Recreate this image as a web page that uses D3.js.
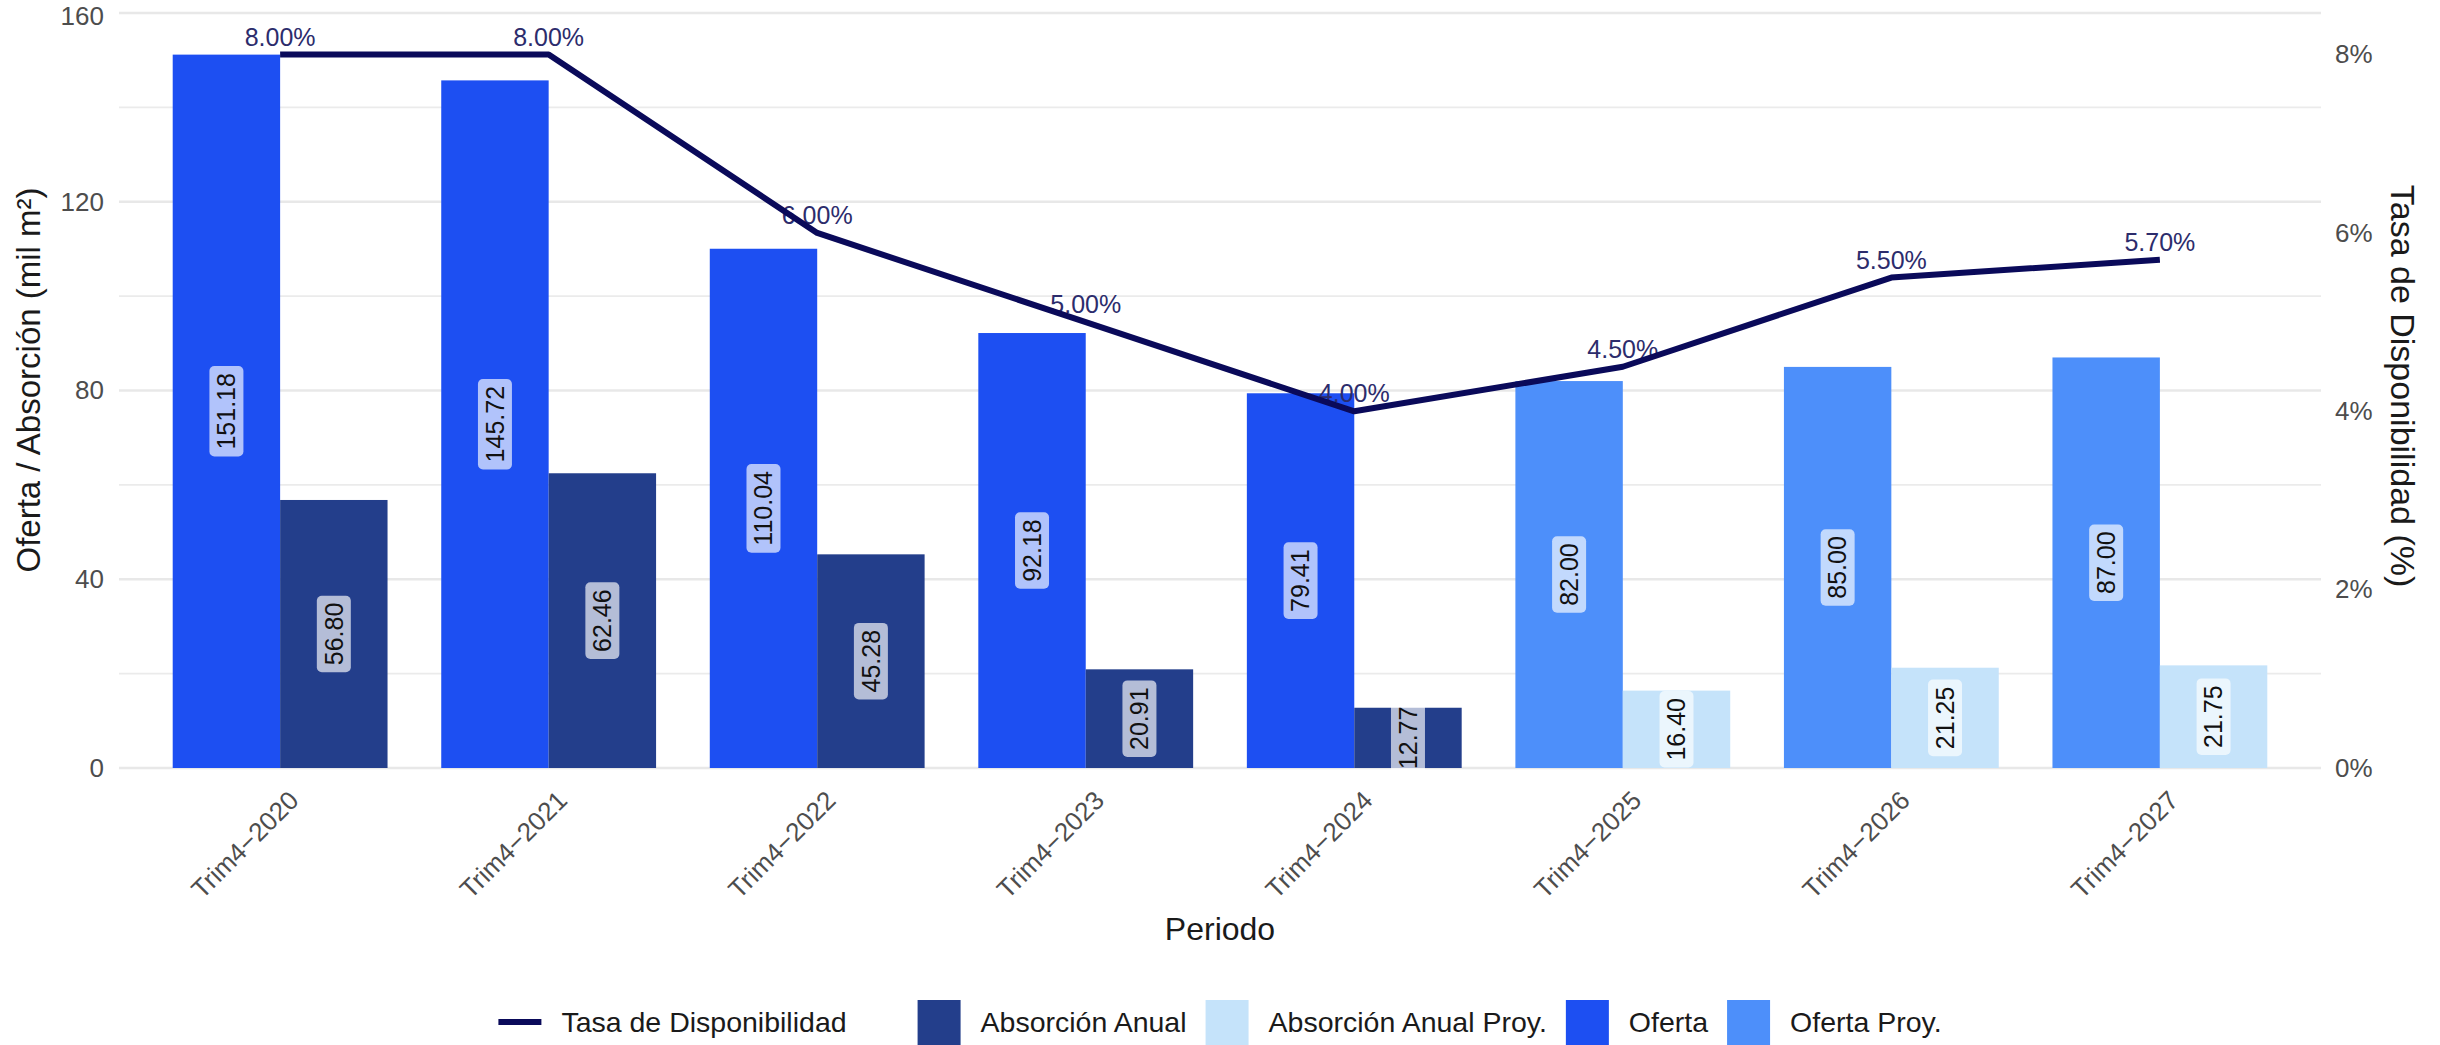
<!DOCTYPE html>
<html>
<head>
<meta charset="utf-8">
<script src="https://cdn.jsdelivr.net/npm/d3@7"></script>
<style>
  body { margin: 0; background: #fff; }
  svg { display: block; }
  text { font-family: "Liberation Sans", Arial, Helvetica, sans-serif; }
</style>
</head>
<body>
<svg id="chart" width="2440" height="1045"></svg>
<script>
// Periods (Q4 of each year); 2025–2027 are projections
const periodos = ["Trim4\u22122020", "Trim4\u22122021", "Trim4\u22122022", "Trim4\u22122023",
                  "Trim4\u22122024", "Trim4\u22122025", "Trim4\u22122026", "Trim4\u22122027"];
const oferta     = [151.18, 145.72, 110.04, 92.18, 79.41, 82.00, 85.00, 87.00];
const absorcion  = [56.80, 62.46, 45.28, 20.91, 12.77, 16.40, 21.25, 21.75];
const tasa       = [8.00, 8.00, 6.00, 5.00, 4.00, 4.50, 5.50, 5.70];
const proyectado = [false, false, false, false, false, true, true, true];

const yTicks      = [0, 40, 80, 120, 160];
const yMinorTicks = [20, 60, 100, 140];
const tasaTicks   = [0, 2, 4, 6, 8];

const serieNames = ["Absorción Anual", "Absorción Anual Proy.", "Oferta", "Oferta Proy."];
const colores = {
  "Oferta": "#1d4ff2",
  "Oferta Proy.": "#4d8ffa",
  "Absorción Anual": "#233e8b",
  "Absorción Anual Proy.": "#c5e3fa"
};
const lineColor = "#0a0a5a";

const svg = d3.select("#chart");
const panel = { left: 119, right: 2321, top: 13, bottom: 768 };

const x = d3.scaleBand().domain(periodos)
  .range([panel.left, panel.right]).paddingInner(0.2).paddingOuter(0.2);
const xSub = d3.scaleBand().domain(["oferta", "absorcion"]).range([0, x.bandwidth()]);
const y = d3.scaleLinear().domain([0, 160]).range([panel.bottom, panel.top]);
// secondary axis: the rate is rescaled so that its maximum meets the tallest supply bar
const yTasa = d3.scaleLinear().domain([0, d3.max(tasa)])
  .range([y(0), y(d3.max(oferta))]);

// grid
const grid = svg.append("g");
grid.selectAll("line.minor").data(yMinorTicks).join("line")
  .attr("x1", panel.left).attr("x2", panel.right)
  .attr("y1", d => y(d)).attr("y2", d => y(d))
  .attr("stroke", "#ebebeb").attr("stroke-width", 1.6);
grid.selectAll("line.major").data(yTicks).join("line")
  .attr("x1", panel.left).attr("x2", panel.right)
  .attr("y1", d => y(d)).attr("y2", d => y(d))
  .attr("stroke", "#e8e8e8").attr("stroke-width", 2.6);

// bars
const barras = [];
periodos.forEach((p, i) => {
  barras.push({ p, key: "oferta", v: oferta[i], serie: proyectado[i] ? "Oferta Proy." : "Oferta" });
  barras.push({ p, key: "absorcion", v: absorcion[i], serie: proyectado[i] ? "Absorción Anual Proy." : "Absorción Anual" });
});

svg.append("g").selectAll("rect").data(barras).join("rect")
  .attr("x", d => x(d.p) + xSub(d.key))
  .attr("width", xSub.bandwidth())
  .attr("y", d => y(d.v))
  .attr("height", d => y(0) - y(d.v))
  .attr("fill", d => colores[d.serie]);

// value labels, rotated, centred at half the bar height
const etiquetas = svg.append("g").selectAll("g").data(barras).join("g")
  .attr("transform", d => `translate(${x(d.p) + xSub(d.key) + xSub.bandwidth() / 2},${y(d.v / 2)}) rotate(-90)`);
etiquetas.append("rect").attr("class", "box");
etiquetas.append("text")
  .attr("text-anchor", "middle").attr("dy", "0.35em")
  .attr("font-size", 25).attr("fill", "#111111")
  .text(d => d.v.toFixed(2));
etiquetas.each(function () {
  const g = d3.select(this);
  const tw = g.select("text").node().getComputedTextLength();
  g.select("rect.box")
    .attr("x", -tw / 2 - 7).attr("y", -17)
    .attr("width", tw + 14).attr("height", 34)
    .attr("rx", 5).attr("ry", 5)
    .attr("fill", "#ffffff").attr("fill-opacity", 0.66);
});

// rate labels
const cx = p => x(p) + x.bandwidth() / 2;
svg.append("g").selectAll("text").data(periodos).join("text")
  .attr("x", d => cx(d))
  .attr("y", (d, i) => yTasa(tasa[i]) - 9)
  .attr("text-anchor", "middle")
  .attr("font-size", 25).attr("fill", "#2c2c6c")
  .text((d, i) => tasa[i].toFixed(2) + "%");

// rate line
const linea = d3.line().x(d => cx(d.p)).y(d => yTasa(d.v));
svg.append("path")
  .datum(periodos.map((p, i) => ({ p, v: tasa[i] })))
  .attr("d", linea)
  .attr("fill", "none").attr("stroke", lineColor)
  .attr("stroke-width", 6).attr("stroke-linejoin", "round");

// axes
const axL = svg.append("g").attr("transform", `translate(${panel.left},0)`)
  .call(d3.axisLeft(y).tickValues(yTicks).tickSize(0).tickPadding(15));
const axR = svg.append("g").attr("transform", `translate(${panel.right},0)`)
  .call(d3.axisRight(yTasa).tickValues(tasaTicks).tickSize(0).tickPadding(14).tickFormat(d => d + "%"));
const axB = svg.append("g").attr("transform", `translate(0,${panel.bottom})`)
  .call(d3.axisBottom(x).tickSize(0));
[axL, axR, axB].forEach(a => {
  a.select(".domain").remove();
  a.selectAll("text").attr("font-size", 26).attr("fill", "#4d4d4d")
    .attr("font-family", "\"Liberation Sans\", Arial, sans-serif");
});
// keep the topmost tick label inside the canvas
axL.selectAll("text").attr("dy", d => d === d3.max(yTicks) ? "0.46em" : "0.32em");
axB.selectAll("text")
  .attr("x", 0).attr("y", 0).attr("dy", "0.71em")
  .attr("text-anchor", "end")
  .attr("transform", "translate(7,21) rotate(-45)");

// axis titles
svg.append("text")
  .attr("transform", "translate(28,380) rotate(-90)")
  .attr("text-anchor", "middle").attr("dy", "0.35em")
  .attr("font-size", 33).attr("fill", "#1a1a1a")
  .text("Oferta / Absorción (mil m²)");
svg.append("text")
  .attr("transform", "translate(2403,386) rotate(90)")
  .attr("text-anchor", "middle").attr("dy", "0.35em")
  .attr("font-size", 34).attr("fill", "#1a1a1a")
  .text("Tasa de Disponibilidad (%)");
svg.append("text")
  .attr("x", (panel.left + panel.right) / 2).attr("y", 940)
  .attr("text-anchor", "middle")
  .attr("font-size", 32).attr("fill", "#1a1a1a")
  .text("Periodo");

// legend: one line guide followed by the fill guide, centred under the panel
const legend = svg.append("g");
const legY = 1022, keyW = 43, keyGap = 20, itemGap = 19, guideGap = 71;
const items = [{ tipo: "linea", name: "Tasa de Disponibilidad" }]
  .concat(serieNames.map(n => ({ tipo: "fill", name: n })));
let cursor = 0;
items.forEach((it, k) => {
  const g = legend.append("g");
  if (it.tipo === "linea") {
    g.append("line").attr("x1", cursor).attr("x2", cursor + keyW)
      .attr("y1", legY).attr("y2", legY)
      .attr("stroke", lineColor).attr("stroke-width", 6);
  } else {
    g.append("rect").attr("x", cursor).attr("y", legY - 22)
      .attr("width", keyW).attr("height", 46).attr("fill", colores[it.name]);
  }
  const t = g.append("text").attr("x", cursor + keyW + keyGap).attr("y", legY)
    .attr("dy", "0.35em").attr("font-size", 28.5).attr("fill", "#1a1a1a").text(it.name);
  cursor += keyW + keyGap + t.node().getComputedTextLength();
  cursor += (k === 0) ? guideGap : itemGap;
});
const legW = cursor - itemGap;
legend.attr("transform", `translate(${(panel.left + panel.right) / 2 - legW / 2},0)`);
</script>
</body>
</html>
